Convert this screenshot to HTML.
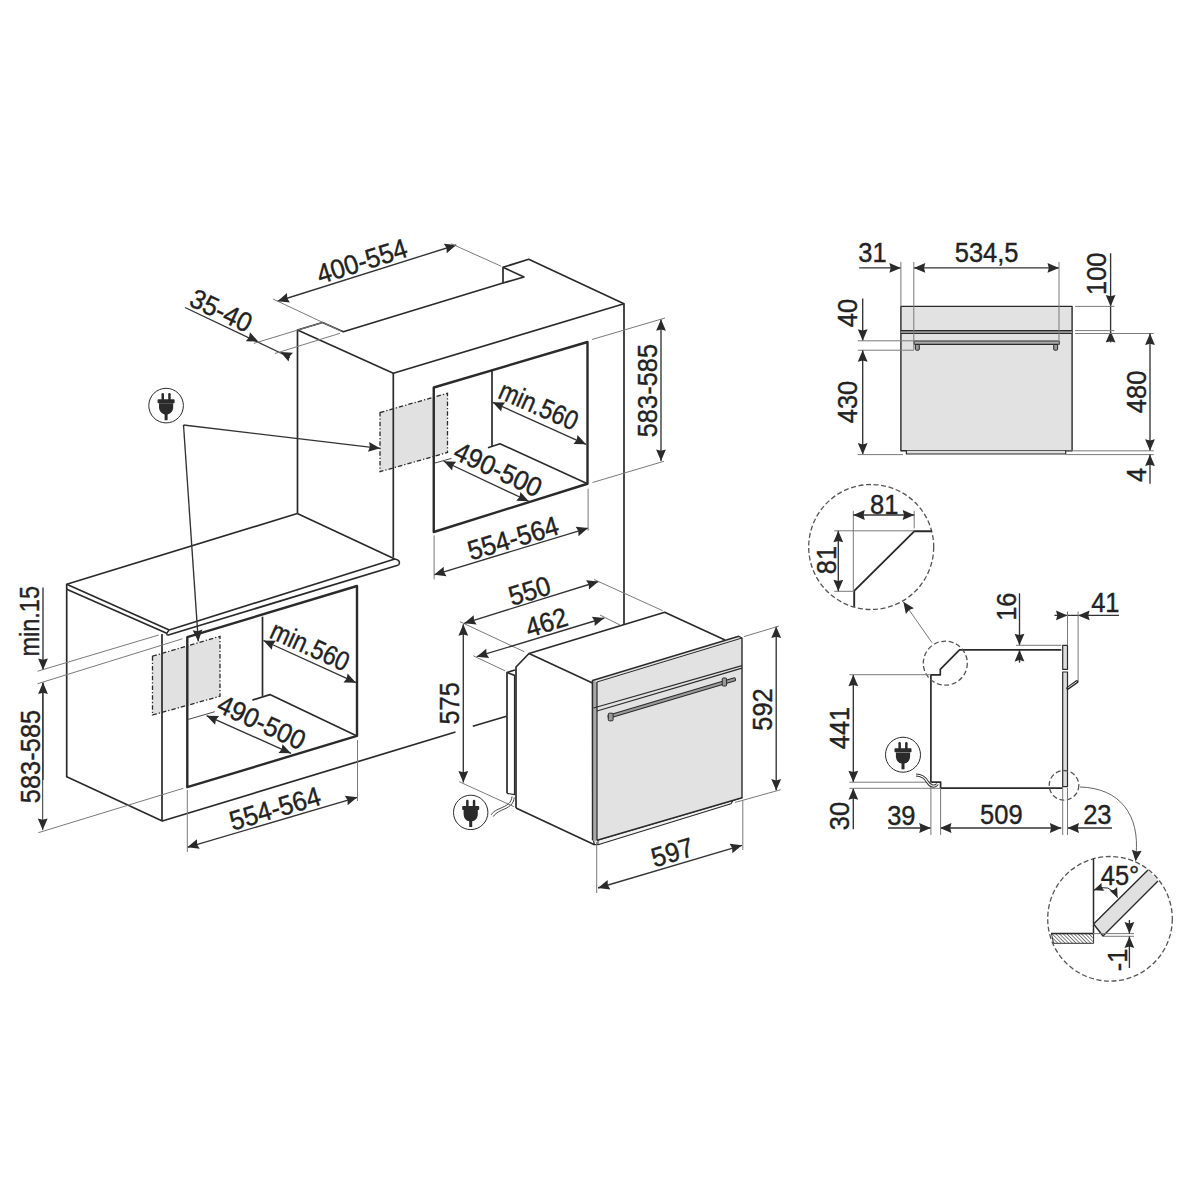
<!DOCTYPE html>
<html><head><meta charset="utf-8"><style>
html,body{margin:0;padding:0;background:#fff;}
svg{display:block;font-family:"Liberation Sans",sans-serif;}
</style></head><body>
<svg width="1200" height="1200" viewBox="0 0 1200 1200">
<rect width="1200" height="1200" fill="#fff"/>
<path d="M380 412.5 L447.5 393.3 L447.5 452.5 L380 471.7 Z" fill="#e1e1e1" stroke="#2a2a2a" stroke-width="1.3" stroke-dasharray="4.5 2 1.3 2"/>
<path d="M152.5 656.25 L220 636.25 L220 696.25 L152.5 715 Z" fill="#e1e1e1" stroke="#2a2a2a" stroke-width="1.3" stroke-dasharray="4.5 2 1.3 2"/>
<path d="M297.5 513.5 L297.5 330 L322.5 322.5 L343.3 331.7 L503 283 L503 267.3 L528.7 259.3 L624 303.7 L624 624.7" fill="none" stroke="#2a2a2a" stroke-width="1.7" stroke-linejoin="round" />
<path d="M503 267.3 L524 277 L503 283" fill="none" stroke="#2a2a2a" stroke-width="1.7" stroke-linejoin="round" />
<path d="M297.5 330 L393.3 373.3 L624 303.7" fill="none" stroke="#2a2a2a" stroke-width="1.7" stroke-linejoin="round" />
<path d="M393.3 373.3 L393.3 557.4" fill="none" stroke="#2a2a2a" stroke-width="1.7" stroke-linejoin="round" />
<path d="M433.75 387.5 L587.5 342 L587.5 483.75 L433.75 532 Z" fill="none" stroke="#2a2a2a" stroke-width="2.4" stroke-linejoin="round" />
<path d="M492 371 L492 446" fill="none" stroke="#2a2a2a" stroke-width="1.7" stroke-linejoin="round" />
<path d="M488 447.8 L500 443.75 L587.5 483.75" fill="none" stroke="#2a2a2a" stroke-width="1.7" stroke-linejoin="round" />
<path d="M435 463 L451.5 458.4" fill="none" stroke="#333" stroke-width="0.9" stroke-linejoin="round" />
<path d="M66.7 589.2 L66.7 584.2 L297.3 513.5" fill="none" stroke="#2a2a2a" stroke-width="1.7" stroke-linejoin="round" />
<path d="M66.7 584.2 L169.2 630" fill="none" stroke="#2a2a2a" stroke-width="1.7" stroke-linejoin="round" />
<path d="M297.3 513.5 L394.8 559" fill="none" stroke="#2a2a2a" stroke-width="1.7" stroke-linejoin="round" />
<path d="M169.2 630 L394.8 559" fill="none" stroke="#2a2a2a" stroke-width="1.7" stroke-linejoin="round" />
<path d="M66.7 589.2 L166.7 633.3" fill="none" stroke="#2a2a2a" stroke-width="1.7" stroke-linejoin="round" />
<path d="M167.5 635.3 L398.6 565" fill="none" stroke="#2a2a2a" stroke-width="1.7" stroke-linejoin="round" />
<path d="M169.2 630 Q165.5 634 167.5 635.3" fill="none" stroke="#2a2a2a" stroke-width="1.5"/>
<path d="M394.8 559 Q401.5 560.5 398.6 565" fill="none" stroke="#2a2a2a" stroke-width="1.5"/>
<path d="M66.7 589.2 L66.7 776.7 L162.3 821 L455.5 732" fill="none" stroke="#2a2a2a" stroke-width="1.7" stroke-linejoin="round" />
<path d="M162 634 L162 821" fill="none" stroke="#2a2a2a" stroke-width="1.7" stroke-linejoin="round" />
<path d="M472.75 726.3 L506.5 716.25" fill="none" stroke="#2a2a2a" stroke-width="1.7" stroke-linejoin="round" />
<path d="M187.3 637.2 L357 586 L357 735.9 L187.3 787.2 Z" fill="none" stroke="#2a2a2a" stroke-width="2.4" stroke-linejoin="round" />
<path d="M262.5 616.7 L262.5 695.9" fill="none" stroke="#2a2a2a" stroke-width="1.7" stroke-linejoin="round" />
<path d="M252.4 700.1 L269.9 694.6 L357 735.9" fill="none" stroke="#2a2a2a" stroke-width="1.7" stroke-linejoin="round" />
<path d="M188.3 719.4 L214.8 711.7" fill="none" stroke="#333" stroke-width="0.9" stroke-linejoin="round" />
<path d="M277.5 301.25 L456.25 245" fill="none" stroke="#333" stroke-width="1.35" stroke-linejoin="round" />
<path d="M456.25 245 L446.75 253.13 L446.52 248.06 L443.81 243.78 Z" fill="#2a2a2a"/>
<path d="M277.5 301.25 L287 293.12 L287.23 298.19 L289.94 302.47 Z" fill="#2a2a2a"/>
<path d="M273 299 L342 331.5" fill="none" stroke="#7a7a7a" stroke-width="1" stroke-linejoin="round" />
<path d="M451.25 243.75 L501.25 266.25" fill="none" stroke="#7a7a7a" stroke-width="1" stroke-linejoin="round" />
<text transform="translate(361.9 261.25) rotate(-17.5) scale(1 1.07)" x="0" y="8.85" font-size="25.5" text-anchor="middle" fill="#222" stroke="#222" stroke-width="0.35">400-554</text>
<path d="M185 307.5 L290 357.5" fill="none" stroke="#333" stroke-width="1.35" stroke-linejoin="round" />
<path d="M258.3 341.6 L245.81 341.19 L249.05 337.3 L249.94 332.31 Z" fill="#2a2a2a"/>
<path d="M280.5 352 L292.97 352.82 L289.6 356.61 L288.55 361.57 Z" fill="#2a2a2a"/>
<path d="M253.8 343.4 L322.5 322.5" fill="none" stroke="#7a7a7a" stroke-width="1" stroke-linejoin="round" />
<path d="M274.9 353.5 L340 333.3" fill="none" stroke="#7a7a7a" stroke-width="1" stroke-linejoin="round" />
<text transform="translate(221.25 310.6) rotate(25.5) scale(1 1.07)" x="0" y="8.85" font-size="25.5" text-anchor="middle" fill="#222" stroke="#222" stroke-width="0.35">35-40</text>
<path d="M492.7 402.3 L586 444.3" fill="none" stroke="#333" stroke-width="1.35" stroke-linejoin="round" />
<path d="M586 444.3 L573.5 444.05 L576.7 440.11 L577.52 435.11 Z" fill="#2a2a2a"/>
<path d="M492.7 402.3 L505.2 402.55 L502 406.49 L501.18 411.49 Z" fill="#2a2a2a"/>
<text transform="translate(538.75 405.6) rotate(23.7) scale(0.92 1.07)" x="0" y="8.85" font-size="25.5" text-anchor="middle" fill="#222" stroke="#222" stroke-width="0.35">min.560</text>
<path d="M443.75 461.25 L528.75 501.25" fill="none" stroke="#333" stroke-width="1.35" stroke-linejoin="round" />
<path d="M528.75 501.25 L516.26 500.79 L519.52 496.91 L520.43 491.92 Z" fill="#2a2a2a"/>
<path d="M443.75 461.25 L456.24 461.71 L452.98 465.59 L452.07 470.58 Z" fill="#2a2a2a"/>
<text transform="translate(498.1 469.4) rotate(25.2) scale(1 1.07)" x="0" y="8.85" font-size="25.5" text-anchor="middle" fill="#222" stroke="#222" stroke-width="0.35">490-500</text>
<path d="M434.1 574.8 L588.1 528.1" fill="none" stroke="#333" stroke-width="1.35" stroke-linejoin="round" />
<path d="M588.1 528.1 L578.52 536.13 L578.34 531.06 L575.67 526.75 Z" fill="#2a2a2a"/>
<path d="M434.1 574.8 L443.68 566.77 L443.86 571.84 L446.53 576.15 Z" fill="#2a2a2a"/>
<path d="M434.1 535.4 L434.1 579.4" fill="none" stroke="#7a7a7a" stroke-width="1" stroke-linejoin="round" />
<path d="M588.1 488.7 L588.1 530.8" fill="none" stroke="#7a7a7a" stroke-width="1" stroke-linejoin="round" />
<text transform="translate(513.1 538.1) rotate(-16.7) scale(1 1.07)" x="0" y="8.85" font-size="25.5" text-anchor="middle" fill="#222" stroke="#222" stroke-width="0.35">554-564</text>
<path d="M661 319.3 L661 461" fill="none" stroke="#333" stroke-width="1.35" stroke-linejoin="round" />
<path d="M661 461 L656.1 449.5 L661 450.8 L665.9 449.5 Z" fill="#2a2a2a"/>
<path d="M661 319.3 L665.9 330.8 L661 329.5 L656.1 330.8 Z" fill="#2a2a2a"/>
<path d="M592 339.5 L665 318" fill="none" stroke="#7a7a7a" stroke-width="1" stroke-linejoin="round" />
<path d="M592.5 482.5 L664 461.25" fill="none" stroke="#7a7a7a" stroke-width="1" stroke-linejoin="round" />
<text transform="translate(647.5 390.6) rotate(-90) scale(1 1.07)" x="0" y="8.85" font-size="25.5" text-anchor="middle" fill="#222" stroke="#222" stroke-width="0.35">583-585</text>
<path d="M263.4 640.5 L356 682.7" fill="none" stroke="#333" stroke-width="1.35" stroke-linejoin="round" />
<path d="M356 682.7 L343.5 682.39 L346.72 678.47 L347.57 673.47 Z" fill="#2a2a2a"/>
<path d="M263.4 640.5 L275.9 640.81 L272.68 644.73 L271.83 649.73 Z" fill="#2a2a2a"/>
<text transform="translate(310.2 646) rotate(24.5) scale(0.92 1.07)" x="0" y="8.85" font-size="25.5" text-anchor="middle" fill="#222" stroke="#222" stroke-width="0.35">min.560</text>
<path d="M206.6 715.7 L291 753.3" fill="none" stroke="#333" stroke-width="1.35" stroke-linejoin="round" />
<path d="M291 753.3 L278.5 753.1 L281.68 749.15 L282.49 744.14 Z" fill="#2a2a2a"/>
<path d="M206.6 715.7 L219.1 715.9 L215.92 719.85 L215.11 724.86 Z" fill="#2a2a2a"/>
<text transform="translate(261.6 722.1) rotate(25) scale(1 1.07)" x="0" y="8.85" font-size="25.5" text-anchor="middle" fill="#222" stroke="#222" stroke-width="0.35">490-500</text>
<path d="M187.3 847.3 L357.3 797.3" fill="none" stroke="#333" stroke-width="1.35" stroke-linejoin="round" />
<path d="M357.3 797.3 L347.65 805.25 L347.51 800.18 L344.88 795.84 Z" fill="#2a2a2a"/>
<path d="M187.3 847.3 L196.95 839.35 L197.09 844.42 L199.72 848.76 Z" fill="#2a2a2a"/>
<path d="M187.3 790 L187.3 852" fill="none" stroke="#7a7a7a" stroke-width="1" stroke-linejoin="round" />
<path d="M357.5 740 L357.5 801" fill="none" stroke="#7a7a7a" stroke-width="1" stroke-linejoin="round" />
<text transform="translate(275 808.3) rotate(-16.5) scale(1 1.07)" x="0" y="8.85" font-size="25.5" text-anchor="middle" fill="#222" stroke="#222" stroke-width="0.35">554-564</text>
<path d="M43 587.5 L43 670" fill="none" stroke="#333" stroke-width="1.35" stroke-linejoin="round" />
<path d="M43 670 L38.1 658.5 L43 659.8 L47.9 658.5 Z" fill="#2a2a2a"/>
<path d="M43 780 L43 682.5" fill="none" stroke="#333" stroke-width="1.35" stroke-linejoin="round" />
<path d="M43 682.5 L47.9 694 L43 692.7 L38.1 694 Z" fill="#2a2a2a"/>
<path d="M37.5 671.25 L158.75 635" fill="none" stroke="#7a7a7a" stroke-width="1" stroke-linejoin="round" />
<path d="M37.5 683.75 L182.5 638.75" fill="none" stroke="#7a7a7a" stroke-width="1" stroke-linejoin="round" />
<text transform="translate(30 621.25) rotate(-90) scale(0.92 1.07)" x="0" y="8.85" font-size="25.5" text-anchor="middle" fill="#222" stroke="#222" stroke-width="0.35">min.15</text>
<path d="M42.7 683 L42.7 830" fill="none" stroke="#333" stroke-width="1" stroke-linejoin="round" />
<path d="M42.7 830 L37.8 818.5 L42.7 819.8 L47.6 818.5 Z" fill="#2a2a2a"/>
<path d="M38.3 832.7 L183.3 788.3" fill="none" stroke="#7a7a7a" stroke-width="1" stroke-linejoin="round" />
<text transform="translate(30.3 756.5) rotate(-90) scale(1 1.07)" x="0" y="8.85" font-size="25.5" text-anchor="middle" fill="#222" stroke="#222" stroke-width="0.35">583-585</text>
<circle cx="166.1" cy="405.6" r="17.3" fill="#fff" stroke="#2a2a2a" stroke-width="1"/>
<g transform="translate(166.1 405.6) scale(1)" fill="#2a2a2a"><rect x="-4.6" y="-12.6" width="2.5" height="7.5" rx="1.2"/><rect x="2.1" y="-12.6" width="2.5" height="7.5" rx="1.2"/><rect x="-8.5" y="-6.4" width="17" height="4" rx="0.8"/><path d="M-7.1 -2.3 L7.1 -2.3 L7.1 1.5 C7.1 6 4 8.5 1.5 8.8 L-1.5 8.8 C-4 8.5 -7.1 6 -7.1 1.5 Z"/><rect x="-1.5" y="7" width="3" height="7.6"/></g>
<path d="M183.5 425 L380 448.3" fill="none" stroke="#333" stroke-width="1.35" stroke-linejoin="round" />
<path d="M380 448.3 L368 451.81 L369.87 447.1 L369.16 442.08 Z" fill="#2a2a2a"/>
<path d="M183.5 425 L198.3 641.4" fill="none" stroke="#333" stroke-width="1.35" stroke-linejoin="round" />
<path d="M198.3 641.4 L192.63 630.26 L197.6 631.22 L202.4 629.59 Z" fill="#2a2a2a"/>
<path d="M507 793.3 L507 672.5 L515 670" fill="none" stroke="#2a2a2a" stroke-width="1.7" stroke-linejoin="round" />
<path d="M507 672.5 L515 675.5" fill="none" stroke="#2a2a2a" stroke-width="1.7" stroke-linejoin="round" />
<path d="M514.5 675.5 L514.5 794.7 L507 793.3" fill="none" stroke="#2a2a2a" stroke-width="1.2" stroke-linejoin="round" />
<path d="M516 808 L516 667 L529 653.5 L664.7 612.3 L741.3 636.6 L742 797.75 L598 844.7 L594.5 844.7 Z" fill="#fff" stroke="none" stroke-width="0" stroke-linejoin="round" />
<path d="M516 808 L516 667 L529 653.5 L664.7 612.3 L725 640" fill="none" stroke="#2a2a2a" stroke-width="1.7" stroke-linejoin="round" />
<path d="M529 653.5 L592.5 683" fill="none" stroke="#2a2a2a" stroke-width="1.7" stroke-linejoin="round" />
<path d="M516 808 L594.5 844.7" fill="none" stroke="#2a2a2a" stroke-width="1.7" stroke-linejoin="round" />
<path d="M593.3 840 L598 840 L742 797.75 L733 800.5 L731 803.8 L598 844.7 L594.5 844.7 Z" fill="#f2f2f2" stroke="#2a2a2a" stroke-width="1.2" stroke-linejoin="round" />
<path d="M598 840 L598 844.7" fill="none" stroke="#2a2a2a" stroke-width="1" stroke-linejoin="round" />
<path d="M592.5 680.5 L738.75 636.25 L742 638 L742 797.75 L598 840 L592.75 839.7 Z" fill="#e2e2e2" stroke="#2a2a2a" stroke-width="1.4" stroke-linejoin="round" />
<path d="M592.5 680.5 L597 682 L597 841 L594 841.3 L592.5 840 Z" fill="#a8a8a8" stroke="none"/>
<path d="M592.5 680.5 L592.5 840" fill="none" stroke="#2a2a2a" stroke-width="1.4" stroke-linejoin="round" />
<path d="M597 682 L597 840" fill="none" stroke="#2a2a2a" stroke-width="1.2" stroke-linejoin="round" />
<path d="M597 682 L742 638" fill="none" stroke="#2a2a2a" stroke-width="1" stroke-linejoin="round" />
<path d="M593.5 708 L742 665.6" fill="none" stroke="#2a2a2a" stroke-width="1.2" stroke-linejoin="round" />
<path d="M597 711 L742 668.2" fill="none" stroke="#2a2a2a" stroke-width="1.2" stroke-linejoin="round" />
<path d="M609.5 716.5 L734 679.5" stroke="#2a2a2a" stroke-width="4.2" stroke-linecap="round"/>
<path d="M609.5 716.5 L734 679.5" stroke="#9a9a9a" stroke-width="2.2" stroke-linecap="round"/>
<rect x="608.3" y="713.2" width="4.8" height="7.6" rx="1" fill="#999" stroke="#2a2a2a" stroke-width="1"/>
<rect x="722.2" y="678" width="4.4" height="8" rx="1" fill="#999" stroke="#2a2a2a" stroke-width="1"/>
<path d="M512 796.5 C 511.5 803, 507 805.5, 500 808.5 C 495 810.5, 492.5 812.5, 491.2 814.8" fill="none" stroke="#333" stroke-width="0.9"/>
<path d="M514.2 797.3 C 513.8 804.5, 509 807.2, 501.5 810.3 C 497 812.3, 494.5 814.5, 493.2 816.6" fill="none" stroke="#333" stroke-width="0.9"/>
<circle cx="470.7" cy="812.4" r="17.2" fill="#fff" stroke="#2a2a2a" stroke-width="1"/>
<g transform="translate(470.7 812.4) scale(1)" fill="#2a2a2a"><rect x="-4.6" y="-12.6" width="2.5" height="7.5" rx="1.2"/><rect x="2.1" y="-12.6" width="2.5" height="7.5" rx="1.2"/><rect x="-8.5" y="-6.4" width="17" height="4" rx="0.8"/><path d="M-7.1 -2.3 L7.1 -2.3 L7.1 1.5 C7.1 6 4 8.5 1.5 8.8 L-1.5 8.8 C-4 8.5 -7.1 6 -7.1 1.5 Z"/><rect x="-1.5" y="7" width="3" height="7.6"/></g>
<path d="M463.3 624.2 L463.3 782.5" fill="none" stroke="#333" stroke-width="1.35" stroke-linejoin="round" />
<path d="M463.3 782.5 L458.4 771 L463.3 772.3 L468.2 771 Z" fill="#2a2a2a"/>
<path d="M463.3 624.2 L468.2 635.7 L463.3 634.4 L458.4 635.7 Z" fill="#2a2a2a"/>
<path d="M460 621.7 L524.2 651.7" fill="none" stroke="#7a7a7a" stroke-width="1" stroke-linejoin="round" />
<path d="M459.2 781.7 L514 806.7" fill="none" stroke="#7a7a7a" stroke-width="1" stroke-linejoin="round" />
<text transform="translate(450 703.3) rotate(-90) scale(1 1.07)" x="0" y="8.85" font-size="25.5" text-anchor="middle" fill="#222" stroke="#222" stroke-width="0.35">575</text>
<path d="M476.7 656.7 L604.3 618" fill="none" stroke="#333" stroke-width="1.35" stroke-linejoin="round" />
<path d="M604.3 618 L594.72 626.03 L594.54 620.96 L591.87 616.65 Z" fill="#2a2a2a"/>
<path d="M476.7 656.7 L486.28 648.67 L486.46 653.74 L489.13 658.05 Z" fill="#2a2a2a"/>
<path d="M473.3 655.8 L505 670.8" fill="none" stroke="#7a7a7a" stroke-width="1" stroke-linejoin="round" />
<path d="M600 615 L620 625" fill="none" stroke="#7a7a7a" stroke-width="1" stroke-linejoin="round" />
<text transform="translate(546.4 622.4) rotate(-17.2) scale(1 1.07)" x="0" y="8.85" font-size="25.5" text-anchor="middle" fill="#222" stroke="#222" stroke-width="0.35">462</text>
<path d="M464.2 623.3 L598.5 581.5" fill="none" stroke="#333" stroke-width="1.35" stroke-linejoin="round" />
<path d="M598.5 581.5 L588.98 589.6 L588.76 584.53 L586.06 580.24 Z" fill="#2a2a2a"/>
<path d="M464.2 623.3 L473.72 615.2 L473.94 620.27 L476.64 624.56 Z" fill="#2a2a2a"/>
<path d="M594 579.5 L662.7 610.7" fill="none" stroke="#7a7a7a" stroke-width="1" stroke-linejoin="round" />
<text transform="translate(529.5 590.8) rotate(-17) scale(1 1.07)" x="0" y="8.85" font-size="25.5" text-anchor="middle" fill="#222" stroke="#222" stroke-width="0.35">550</text>
<path d="M776.2 626.5 L776.2 790.6" fill="none" stroke="#333" stroke-width="1.35" stroke-linejoin="round" />
<path d="M776.2 790.6 L771.3 779.1 L776.2 780.4 L781.1 779.1 Z" fill="#2a2a2a"/>
<path d="M776.2 626.5 L781.1 638 L776.2 636.7 L771.3 638 Z" fill="#2a2a2a"/>
<path d="M744 636.6 L778.9 626.1" fill="none" stroke="#7a7a7a" stroke-width="1" stroke-linejoin="round" />
<path d="M734.9 802.5 L780.7 789.7" fill="none" stroke="#7a7a7a" stroke-width="1" stroke-linejoin="round" />
<text transform="translate(762.9 709.5) rotate(-90) scale(1 1.07)" x="0" y="8.85" font-size="25.5" text-anchor="middle" fill="#222" stroke="#222" stroke-width="0.35">592</text>
<path d="M598 888 L742 845.3" fill="none" stroke="#333" stroke-width="1.35" stroke-linejoin="round" />
<path d="M742 845.3 L732.37 853.27 L732.22 848.2 L729.58 843.87 Z" fill="#2a2a2a"/>
<path d="M598 888 L607.63 880.03 L607.78 885.1 L610.42 889.43 Z" fill="#2a2a2a"/>
<path d="M596.7 842 L596.7 893" fill="none" stroke="#7a7a7a" stroke-width="1" stroke-linejoin="round" />
<path d="M742.8 800 L742.8 850" fill="none" stroke="#7a7a7a" stroke-width="1" stroke-linejoin="round" />
<text transform="translate(672.3 852.3) rotate(-16.5) scale(1 1.07)" x="0" y="8.85" font-size="25.5" text-anchor="middle" fill="#222" stroke="#222" stroke-width="0.35">597</text>
<path d="M900.9 306.4 L1072.1 306.4 L1072.1 450.8 L900.9 450.8 Z" fill="#e2e2e2" stroke="#2a2a2a" stroke-width="1.4" stroke-linejoin="round" />
<rect x="900.9" y="330.6" width="171.2" height="2.9" fill="#9a9a9a"/>
<path d="M900.9 330.6 L1072.1 330.6" fill="none" stroke="#2a2a2a" stroke-width="1.2" stroke-linejoin="round" />
<path d="M900.9 333.5 L1072.1 333.5" fill="none" stroke="#2a2a2a" stroke-width="1.2" stroke-linejoin="round" />
<path d="M906.4 450.8 L906.4 454 L1065.7 454 L1065.7 450.8" fill="#ddd" stroke="#2a2a2a" stroke-width="1.2" stroke-linejoin="round" />
<rect x="915.4" y="344.2" width="3.9" height="6" rx="1" fill="#999" stroke="#2a2a2a" stroke-width="1"/>
<rect x="1053.7" y="344.2" width="3.9" height="6" rx="1" fill="#999" stroke="#2a2a2a" stroke-width="1"/>
<rect x="914" y="341" width="145.5" height="3.4" rx="1.2" fill="#aaa" stroke="#2a2a2a" stroke-width="1.1"/>
<path d="M859.2 267.9 L900.9 267.9" fill="none" stroke="#333" stroke-width="1.35" stroke-linejoin="round" />
<path d="M900.9 267.9 L889.4 272.8 L890.7 267.9 L889.4 263 Z" fill="#2a2a2a"/>
<path d="M913.8 267.9 L1059 267.9" fill="none" stroke="#333" stroke-width="1.35" stroke-linejoin="round" />
<path d="M1059 267.9 L1047.5 272.8 L1048.8 267.9 L1047.5 263 Z" fill="#2a2a2a"/>
<path d="M913.8 267.9 L925.3 263 L924 267.9 L925.3 272.8 Z" fill="#2a2a2a"/>
<path d="M900.9 262 L900.9 306.4" fill="none" stroke="#7a7a7a" stroke-width="1" stroke-linejoin="round" />
<path d="M913.8 262 L913.8 349.6" fill="none" stroke="#7a7a7a" stroke-width="1" stroke-linejoin="round" />
<path d="M1059 262 L1059 345" fill="none" stroke="#7a7a7a" stroke-width="1" stroke-linejoin="round" />
<text transform="translate(872.5 252.9) rotate(0) scale(1 1.07)" x="0" y="8.85" font-size="25.5" text-anchor="middle" fill="#222" stroke="#222" stroke-width="0.35">31</text>
<text transform="translate(986.6 252.9) rotate(0) scale(1 1.07)" x="0" y="8.85" font-size="25.5" text-anchor="middle" fill="#222" stroke="#222" stroke-width="0.35">534,5</text>
<path d="M1110.6 253.3 L1110.6 342.5" fill="none" stroke="#333" stroke-width="1.35" stroke-linejoin="round" />
<path d="M1110.6 306.4 L1105.7 294.9 L1110.6 296.2 L1115.5 294.9 Z" fill="#2a2a2a"/>
<path d="M1110.6 331 L1115.5 342.5 L1110.6 341.2 L1105.7 342.5 Z" fill="#2a2a2a"/>
<path d="M1075 306.4 L1114.4 306.4" fill="none" stroke="#7a7a7a" stroke-width="1" stroke-linejoin="round" />
<path d="M1075 330.6 L1114.4 330.6" fill="none" stroke="#7a7a7a" stroke-width="1" stroke-linejoin="round" />
<path d="M1075 333.5 L1153.75 333.5" fill="none" stroke="#7a7a7a" stroke-width="1" stroke-linejoin="round" />
<text transform="translate(1096.9 273.75) rotate(-90) scale(1 1.07)" x="0" y="8.85" font-size="25.5" text-anchor="middle" fill="#222" stroke="#222" stroke-width="0.35">100</text>
<path d="M1150 333.5 L1150 450.8" fill="none" stroke="#333" stroke-width="1.35" stroke-linejoin="round" />
<path d="M1150 450.8 L1145.1 439.3 L1150 440.6 L1154.9 439.3 Z" fill="#2a2a2a"/>
<path d="M1150 333.5 L1154.9 345 L1150 343.7 L1145.1 345 Z" fill="#2a2a2a"/>
<path d="M1066.25 450.8 L1153.75 450.8" fill="none" stroke="#7a7a7a" stroke-width="1" stroke-linejoin="round" />
<path d="M1066.25 454.6 L1153.75 454.6" fill="none" stroke="#7a7a7a" stroke-width="1" stroke-linejoin="round" />
<text transform="translate(1136.25 391.9) rotate(-90) scale(1 1.07)" x="0" y="8.85" font-size="25.5" text-anchor="middle" fill="#222" stroke="#222" stroke-width="0.35">480</text>
<path d="M1150 483.75 L1150 454.6" fill="none" stroke="#333" stroke-width="1.35" stroke-linejoin="round" />
<path d="M1150 454.6 L1154.9 466.1 L1150 464.8 L1145.1 466.1 Z" fill="#2a2a2a"/>
<text transform="translate(1136.25 475) rotate(-90) scale(1 1.07)" x="0" y="8.85" font-size="25.5" text-anchor="middle" fill="#222" stroke="#222" stroke-width="0.35">4</text>
<path d="M862.7 298.5 L862.7 340.8" fill="none" stroke="#333" stroke-width="1.35" stroke-linejoin="round" />
<path d="M862.7 340.8 L857.8 329.3 L862.7 330.6 L867.6 329.3 Z" fill="#2a2a2a"/>
<path d="M857.7 340.8 L917.5 340.8" fill="none" stroke="#7a7a7a" stroke-width="1" stroke-linejoin="round" />
<path d="M857.7 350.2 L914 350.2" fill="none" stroke="#7a7a7a" stroke-width="1" stroke-linejoin="round" />
<text transform="translate(848 313.1) rotate(-90) scale(1 1.07)" x="0" y="8.85" font-size="25.5" text-anchor="middle" fill="#222" stroke="#222" stroke-width="0.35">40</text>
<path d="M862.7 350.2 L862.7 454.6" fill="none" stroke="#333" stroke-width="1.35" stroke-linejoin="round" />
<path d="M862.7 454.6 L857.8 443.1 L862.7 444.4 L867.6 443.1 Z" fill="#2a2a2a"/>
<path d="M862.7 350.2 L867.6 361.7 L862.7 360.4 L857.8 361.7 Z" fill="#2a2a2a"/>
<path d="M857.7 454.6 L903 454.6" fill="none" stroke="#7a7a7a" stroke-width="1" stroke-linejoin="round" />
<text transform="translate(848 402) rotate(-90) scale(1 1.07)" x="0" y="8.85" font-size="25.5" text-anchor="middle" fill="#222" stroke="#222" stroke-width="0.35">430</text>
<circle cx="871.2" cy="547" r="62.5" fill="none" stroke="#555" stroke-width="1.3" stroke-dasharray="5 2.6"/>
<path d="M854.2 606.7 L854.2 590.8 L914.2 531.3 L931.7 531.3" fill="none" stroke="#2a2a2a" stroke-width="1.9" stroke-linejoin="round" />
<path d="M834.2 530.8 L914 530.8" fill="none" stroke="#7a7a7a" stroke-width="1" stroke-linejoin="round" />
<path d="M834.2 591.3 L854.2 591.3" fill="none" stroke="#7a7a7a" stroke-width="1" stroke-linejoin="round" />
<path d="M853.3 510.8 L853.3 591" fill="none" stroke="#7a7a7a" stroke-width="1" stroke-linejoin="round" />
<path d="M914.2 510.8 L914.2 528.3" fill="none" stroke="#7a7a7a" stroke-width="1" stroke-linejoin="round" />
<path d="M853.3 515 L914.2 515" fill="none" stroke="#333" stroke-width="1.35" stroke-linejoin="round" />
<path d="M914.2 515 L902.7 519.9 L904 515 L902.7 510.1 Z" fill="#2a2a2a"/>
<path d="M853.3 515 L864.8 510.1 L863.5 515 L864.8 519.9 Z" fill="#2a2a2a"/>
<text transform="translate(884.2 504.2) rotate(0) scale(1 1.07)" x="0" y="8.85" font-size="25.5" text-anchor="middle" fill="#222" stroke="#222" stroke-width="0.35">81</text>
<path d="M838.3 530.8 L838.3 591.3" fill="none" stroke="#333" stroke-width="1.35" stroke-linejoin="round" />
<path d="M838.3 591.3 L833.4 579.8 L838.3 581.1 L843.2 579.8 Z" fill="#2a2a2a"/>
<path d="M838.3 530.8 L843.2 542.3 L838.3 541 L833.4 542.3 Z" fill="#2a2a2a"/>
<text transform="translate(826.7 560) rotate(-90) scale(1 1.07)" x="0" y="8.85" font-size="25.5" text-anchor="middle" fill="#222" stroke="#222" stroke-width="0.35">81</text>
<path d="M932 642.7 L903.3 601.7" fill="none" stroke="#7a7a7a" stroke-width="1" stroke-linejoin="round" />
<path d="M903.3 601.7 L913.91 608.31 L909.15 610.06 L905.88 613.93 Z" fill="#2a2a2a"/>
<path d="M1061.3 649.9 L959.5 649.9 L940.3 669.3 L940.3 674.9 L930.9 674.9 L930.9 782.2 L940.6 782.2 L940.6 788.2 L1062.7 788.2" fill="none" stroke="#2a2a2a" stroke-width="1.7" stroke-linejoin="round" />
<path d="M1062.7 645.3 L1067.5 645.3 L1067.5 669.3 L1062.7 669.3 Z" fill="#ddd" stroke="#2a2a2a" stroke-width="1.2" stroke-linejoin="round" />
<path d="M1062.7 672 L1067.5 672 L1067.5 786.7 L1062.7 786.7 Z" fill="#ddd" stroke="#2a2a2a" stroke-width="1.2" stroke-linejoin="round" />
<path d="M1067.8 688.3 L1077 681.6" stroke="#2a2a2a" stroke-width="3.2" stroke-linecap="round"/>
<path d="M1068.5 687.5 L1076.5 681.9" stroke="#ddd" stroke-width="1" stroke-linecap="round"/>
<circle cx="945.3" cy="663.2" r="22" fill="none" stroke="#555" stroke-width="1.3" stroke-dasharray="5 2.6"/>
<circle cx="1064" cy="785.3" r="14.8" fill="none" stroke="#555" stroke-width="1.3" stroke-dasharray="5 2.6"/>
<path d="M1019.5 593.3 L1019.5 645.3" fill="none" stroke="#333" stroke-width="1.35" stroke-linejoin="round" />
<path d="M1019.5 645.3 L1014.6 633.8 L1019.5 635.1 L1024.4 633.8 Z" fill="#2a2a2a"/>
<path d="M1019.5 662.7 L1019.5 649.9" fill="none" stroke="#333" stroke-width="1.35" stroke-linejoin="round" />
<path d="M1019.5 649.9 L1024.4 661.4 L1019.5 660.1 L1014.6 661.4 Z" fill="#2a2a2a"/>
<path d="M1016 645.3 L1061.3 645.3" fill="none" stroke="#7a7a7a" stroke-width="1" stroke-linejoin="round" />
<text transform="translate(1006.7 606.7) rotate(-90) scale(1 1.07)" x="0" y="8.85" font-size="25.5" text-anchor="middle" fill="#222" stroke="#222" stroke-width="0.35">16</text>
<path d="M1054.5 615.4 L1119 615.4" fill="none" stroke="#333" stroke-width="1.35" stroke-linejoin="round" />
<path d="M1067.5 615.4 L1056 620.3 L1057.3 615.4 L1056 610.5 Z" fill="#2a2a2a"/>
<path d="M1078.1 615.4 L1089.6 610.5 L1088.3 615.4 L1089.6 620.3 Z" fill="#2a2a2a"/>
<path d="M1067.5 611.5 L1067.5 645.3" fill="none" stroke="#7a7a7a" stroke-width="1" stroke-linejoin="round" />
<path d="M1078.1 611.5 L1078.1 681.3" fill="none" stroke="#7a7a7a" stroke-width="1" stroke-linejoin="round" />
<text transform="translate(1105.3 602.7) rotate(0) scale(1 1.07)" x="0" y="8.85" font-size="25.5" text-anchor="middle" fill="#222" stroke="#222" stroke-width="0.35">41</text>
<path d="M853.3 674.7 L853.3 782.2" fill="none" stroke="#333" stroke-width="1.35" stroke-linejoin="round" />
<path d="M853.3 782.2 L848.4 770.7 L853.3 772 L858.2 770.7 Z" fill="#2a2a2a"/>
<path d="M853.3 674.7 L858.2 686.2 L853.3 684.9 L848.4 686.2 Z" fill="#2a2a2a"/>
<path d="M849.3 674.7 L930.7 674.7" fill="none" stroke="#7a7a7a" stroke-width="1" stroke-linejoin="round" />
<path d="M849.3 782.2 L930.9 782.2" fill="none" stroke="#7a7a7a" stroke-width="1" stroke-linejoin="round" />
<text transform="translate(839.7 728) rotate(-90) scale(1 1.07)" x="0" y="8.85" font-size="25.5" text-anchor="middle" fill="#222" stroke="#222" stroke-width="0.35">441</text>
<path d="M853.3 829.3 L853.3 788.3" fill="none" stroke="#333" stroke-width="1.35" stroke-linejoin="round" />
<path d="M853.3 788.3 L858.2 799.8 L853.3 798.5 L848.4 799.8 Z" fill="#2a2a2a"/>
<path d="M849.3 788.3 L940.6 788.3" fill="none" stroke="#7a7a7a" stroke-width="1" stroke-linejoin="round" />
<text transform="translate(840 816) rotate(-90) scale(1 1.07)" x="0" y="8.85" font-size="25.5" text-anchor="middle" fill="#222" stroke="#222" stroke-width="0.35">30</text>
<path d="M888 828 L930.7 828" fill="none" stroke="#333" stroke-width="1.35" stroke-linejoin="round" />
<path d="M930.7 828 L919.2 832.9 L920.5 828 L919.2 823.1 Z" fill="#2a2a2a"/>
<path d="M940 828 L1061.3 828" fill="none" stroke="#333" stroke-width="1.35" stroke-linejoin="round" />
<path d="M1061.3 828 L1049.8 832.9 L1051.1 828 L1049.8 823.1 Z" fill="#2a2a2a"/>
<path d="M940 828 L951.5 823.1 L950.2 828 L951.5 832.9 Z" fill="#2a2a2a"/>
<path d="M1112 828 L1067.5 828" fill="none" stroke="#333" stroke-width="1.35" stroke-linejoin="round" />
<path d="M1067.5 828 L1079 823.1 L1077.7 828 L1079 832.9 Z" fill="#2a2a2a"/>
<path d="M930.9 782 L930.9 835" fill="none" stroke="#7a7a7a" stroke-width="1" stroke-linejoin="round" />
<path d="M940.6 788 L940.6 835" fill="none" stroke="#7a7a7a" stroke-width="1" stroke-linejoin="round" />
<path d="M1062.7 788 L1062.7 835" fill="none" stroke="#7a7a7a" stroke-width="1" stroke-linejoin="round" />
<path d="M1067.5 788 L1067.5 835" fill="none" stroke="#7a7a7a" stroke-width="1" stroke-linejoin="round" />
<text transform="translate(901.3 816) rotate(0) scale(1 1.07)" x="0" y="8.85" font-size="25.5" text-anchor="middle" fill="#222" stroke="#222" stroke-width="0.35">39</text>
<text transform="translate(1001.3 814.7) rotate(0) scale(1 1.07)" x="0" y="8.85" font-size="25.5" text-anchor="middle" fill="#222" stroke="#222" stroke-width="0.35">509</text>
<text transform="translate(1097.3 814.7) rotate(0) scale(1 1.07)" x="0" y="8.85" font-size="25.5" text-anchor="middle" fill="#222" stroke="#222" stroke-width="0.35">23</text>
<circle cx="903" cy="754.7" r="17.5" fill="#fff" stroke="#2a2a2a" stroke-width="1"/>
<g transform="translate(903 754.7) scale(1)" fill="#2a2a2a"><rect x="-4.6" y="-12.6" width="2.5" height="7.5" rx="1.2"/><rect x="2.1" y="-12.6" width="2.5" height="7.5" rx="1.2"/><rect x="-8.5" y="-6.4" width="17" height="4" rx="0.8"/><path d="M-7.1 -2.3 L7.1 -2.3 L7.1 1.5 C7.1 6 4 8.5 1.5 8.8 L-1.5 8.8 C-4 8.5 -7.1 6 -7.1 1.5 Z"/><rect x="-1.5" y="7" width="3" height="7.6"/></g>
<path d="M916 775 C 922 775, 925 777.5, 927.5 782 C 930 786.5, 935 787.5, 937.5 784" fill="none" stroke="#333" stroke-width="3"/>
<path d="M916 775 C 922 775, 925 777.5, 927.5 782 C 930 786.5, 935 787.5, 937.5 784" fill="none" stroke="#fff" stroke-width="1.1"/>
<path d="M1080 787 C 1120 788, 1140 815, 1136 855" fill="none" stroke="#555" stroke-width="0.9"/>
<path d="M1135.6 861.6 L1131.9 849.66 L1136.64 851.45 L1141.65 850.66 Z" fill="#2a2a2a"/>
<circle cx="1110" cy="918.8" r="62.3" fill="none" stroke="#555" stroke-width="1.3" stroke-dasharray="5 2.6"/>
<defs><pattern id="hatch" width="2.6" height="2.6" patternUnits="userSpaceOnUse" patternTransform="rotate(-45)"><line x1="0" y1="0" x2="0" y2="2.6" stroke="#333" stroke-width="1.2"/></pattern></defs>
<path d="M1051.5 933.6 L1093.6 933.6 L1093.6 943.3 L1053.5 943.3 Z" fill="url(#hatch)" stroke="#333" stroke-width="1"/>
<path d="M1051 933.6 L1093.5 933.6 L1093.5 858.5" fill="none" stroke="#2a2a2a" stroke-width="1.5" stroke-linejoin="round" />
<path d="M1093.6 924 L1148 870 L1158 881 L1103 936 Z" fill="#e0e0e0" stroke="none" stroke-width="0" stroke-linejoin="round" />
<path d="M1148 870 L1093.6 924 L1103 936 L1158 881" fill="none" stroke="#2a2a2a" stroke-width="1.4" stroke-linejoin="round" />
<path d="M1103 936.3 L1134 936.3" fill="none" stroke="#7a7a7a" stroke-width="1" stroke-linejoin="round" />
<path d="M1093 933.6 L1134 933.6" fill="none" stroke="#7a7a7a" stroke-width="1" stroke-linejoin="round" />
<path d="M1129.4 920 L1129.4 933.6" fill="none" stroke="#333" stroke-width="1.35" stroke-linejoin="round" />
<path d="M1129.4 933.6 L1124.5 922.1 L1129.4 923.4 L1134.3 922.1 Z" fill="#2a2a2a"/>
<path d="M1129.4 968 L1129.4 936.4" fill="none" stroke="#333" stroke-width="1.35" stroke-linejoin="round" />
<path d="M1129.4 936.4 L1134.3 947.9 L1129.4 946.6 L1124.5 947.9 Z" fill="#2a2a2a"/>
<text transform="translate(1118 960) rotate(-90) scale(1 1.07)" x="0" y="8.85" font-size="25.5" text-anchor="middle" fill="#222" stroke="#222" stroke-width="0.35">-1</text>
<path d="M1093.5 890.3 Q1110 882 1117.6 897.8" fill="none" stroke="#2a2a2a" stroke-width="1"/>
<path d="M1093.5 890.3 L1101.47 882.95 L1101.68 887.34 L1104.33 890.85 Z" fill="#2a2a2a"/>
<path d="M1117.6 897.8 L1109.55 890.53 L1113.9 889.92 L1117.15 886.96 Z" fill="#2a2a2a"/>
<text transform="translate(1120 876) rotate(0) scale(1 1.07)" x="0" y="8.85" font-size="25.5" text-anchor="middle" fill="#222" stroke="#222" stroke-width="0.35">45°</text>
</svg></body></html>
